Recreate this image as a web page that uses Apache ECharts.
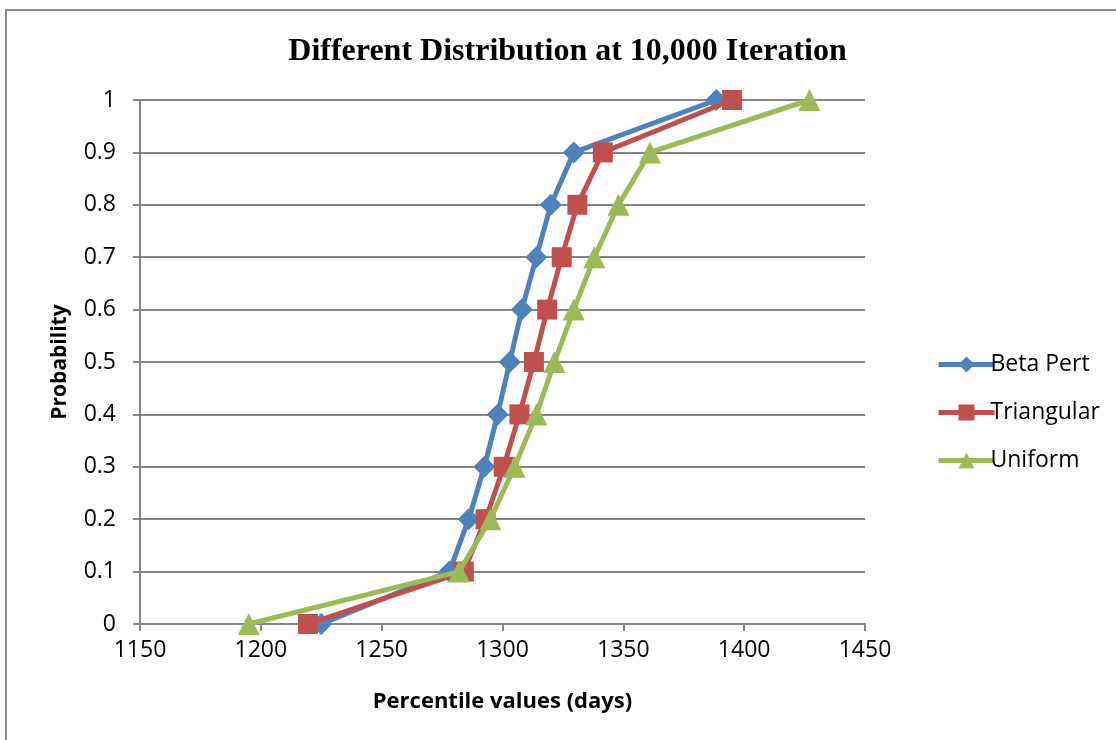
<!DOCTYPE html>
<html>
<head>
<meta charset="utf-8">
<script src="https://cdn.jsdelivr.net/npm/echarts@6/dist/echarts.min.js"></script>
<style>html,body{margin:0;padding:0;background:#fff;}#c{width:1116px;height:740px;}</style>
</head>
<body>
<div id="c"></div>
<script>
const probabilities = [0, 0.1, 0.2, 0.3, 0.4, 0.5, 0.6, 0.7, 0.8, 0.9, 1];
const betaPert   = [1225, 1278, 1286, 1292.5, 1298, 1303, 1308, 1314, 1320, 1329.5, 1388.5];
const triangular = [1219.5, 1284, 1293, 1300.5, 1307, 1313, 1318.5, 1324.5, 1331, 1341.5, 1395];
const uniform    = [1195, 1282, 1295, 1305, 1314, 1321.5, 1329.5, 1338, 1348, 1361, 1427];
const seriesNames = ['Beta Pert', 'Triangular', 'Uniform'];
const xTicks = [1150, 1200, 1250, 1300, 1350, 1400, 1450];

const pair = arr => arr.map((v, i) => [v, probabilities[i]]);
const colors = ['#4F81BD', '#C0504D', '#9BBB59'];
const symbols = ['diamond', 'rect', 'triangle'];
const sizes = [22, 20, 22];
const dataSets = [betaPert, triangular, uniform];
const labelFont = '"Open Sans", Lato, sans-serif';

const chart = echarts.init(document.getElementById('c'));
chart.setOption({
  animation: false,
  backgroundColor: '#fff',
  title: {
    text: 'Different Distribution at 10,000 Iteration',
    left: 562.5, top: 31, textAlign: 'center',
    textStyle: { fontFamily: '"Liberation Serif", "Times New Roman", serif', fontWeight: 'bold', fontSize: 32, color: '#000' }
  },
  graphic: [
    { type: 'line', shape: { x1: 5, y1: 10, x2: 1116, y2: 10 }, style: { stroke: '#8a8a8a', lineWidth: 2 } },
    { type: 'line', shape: { x1: 6, y1: 10, x2: 6, y2: 740 }, style: { stroke: '#8a8a8a', lineWidth: 2 } }
  ],
  legend: {
    orient: 'vertical',
    left: 931, top: 348,
    itemWidth: 56, itemHeight: 20, itemGap: 25,
    itemStyle: { borderWidth: 0 },
    lineStyle: { width: 5 },
    textStyle: { fontFamily: labelFont, fontSize: 23, color: '#000', padding: [0, 0, 0, -9] },
    data: seriesNames
  },
  grid: { left: 140, right: 251, top: 100, bottom: 116 },
  xAxis: {
    type: 'value', min: xTicks[0], max: xTicks[xTicks.length - 1], interval: 50,
    name: 'Percentile values (days)', nameLocation: 'middle', nameGap: 67,
    nameTextStyle: { fontFamily: labelFont, fontWeight: 'bold', fontSize: 22, color: '#000' },
    axisLine: { show: true, lineStyle: { color: '#868686', width: 2 } },
    axisTick: { show: true, length: 7, lineStyle: { color: '#868686', width: 2 } },
    axisLabel: { margin: 15, fontFamily: labelFont, fontSize: 23, color: '#000', formatter: v => String(v) },
    splitLine: { show: false }
  },
  yAxis: {
    type: 'value', min: 0, max: 1, interval: 0.1,
    name: 'Probability', nameLocation: 'middle', nameGap: 69,
    nameTextStyle: { fontFamily: labelFont, fontWeight: 'bold', fontSize: 21, color: '#000' },
    axisLine: { show: true, lineStyle: { color: '#868686', width: 2 } },
    axisTick: { show: true, length: 7, lineStyle: { color: '#868686', width: 2 } },
    axisLabel: { margin: 24, fontFamily: labelFont, fontSize: 23, color: '#000' },
    splitLine: { show: true, lineStyle: { color: '#868686', width: 2 } }
  },
  series: seriesNames.map((name, i) => ({
    name, type: 'line',
    data: pair(dataSets[i]),
    symbol: symbols[i], symbolSize: sizes[i],
    showAllSymbol: true,
    lineStyle: { color: colors[i], width: 5 },
    itemStyle: { color: colors[i], borderWidth: 0 },
    emphasis: { disabled: true },
    z: 2 + i
  }))
});
</script>
</body>
</html>
